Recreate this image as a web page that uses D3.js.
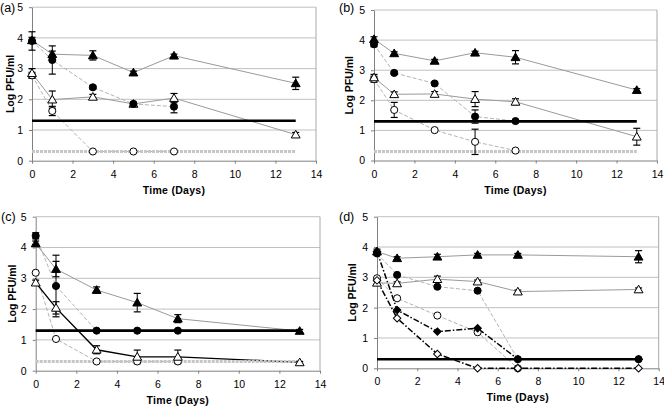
<!DOCTYPE html>
<html><head><meta charset="utf-8">
<script src="https://cdn.jsdelivr.net/npm/d3@7/dist/d3.min.js"></script>
<style>
html,body{margin:0;padding:0;background:#fff;}
svg{display:block;font-family:"Liberation Sans",Arial,sans-serif;}
</style></head>
<body><svg id="chart" width="664" height="407"></svg>
<script>
// ---- data ----
const days = [0, 1, 3, 5, 7, 13];
const xTicks = [0, 2, 4, 6, 8, 10, 12, 14];
const yTicks = [0, 1, 2, 3, 4, 5];
const panelLabels = ["(a)", "(b)", "(c)", "(d)"];
const yTitle = "Log PFU/ml";
const xTitle = "Time (Days)";

// panel (a)
const aFilledTri     = [3.92, 3.47, 3.43, 2.87, 3.42, 2.52];
const aFilledTriErr  = [0.10, 0.10, 0.15, 0.05, 0.05, 0.20];
const aFilledCirc    = [3.90, 3.28, 2.39, 1.85, 1.76, null];
const aFilledCircErr = [0.30, 0.46, 0.05, 0.05, 0.20, null];
const aOpenTri       = [2.85, 1.99, 2.08, 1.85, 2.04, 0.85];
const aOpenTriErr    = [0.15, 0.28, 0.08, 0.05, 0.15, 0.07];
const aOpenCirc      = [2.78, 1.62, 0.30, 0.30, 0.30, null];
const aOpenCircErr   = [0.10, 0.15, 0, 0, 0, null];

// panel (b)
const bFilledTri     = [4.03, 3.56, 3.31, 3.58, 3.43, 2.34];
const bFilledTriErr  = [0.08, 0.05, 0.05, 0.05, 0.22, 0.05];
const bFilledCirc    = [3.86, 2.91, 2.56, 1.46, 1.31, null];
const bFilledCircErr = [0.08, 0.05, 0.05, 0.22, 0.05, null];
const bOpenTri       = [2.76, 2.20, 2.21, 2.04, 1.95, 0.79];
const bOpenTriErr    = [0.10, 0.08, 0.08, 0.25, 0.10, 0.28];
const bOpenCirc      = [2.70, 1.68, 1.01, 0.62, 0.33, null];
const bOpenCircErr   = [0.10, 0.25, 0, 0.42, 0, null];

// panel (c)
const cFilledTri     = [4.13, 3.30, 2.62, 2.21, 1.69, 1.29];
const cFilledTriErr  = [0.08, 0.25, 0.10, 0.30, 0.13, 0.05];
const cFilledCirc    = [4.38, 2.75, 1.30, 1.30, 1.30, null];
const cFilledCircErr = [0.10, 1.00, 0, 0, 0, null];
const cOpenTri       = [2.86, 2.04, 0.68, 0.45, 0.45, 0.27];
const cOpenTriErr    = [0.08, 0.20, 0.13, 0.22, 0.22, 0.03];
const cOpenCirc      = [3.18, 1.03, 0.30, 0.30, 0.30, null];
const cOpenCircErr   = [0, 0, 0, 0, 0, null];

// panel (d)
const dFilledTri     = [3.85, 3.63, 3.68, 3.74, 3.74, 3.68];
const dFilledTriErr  = [0.08, 0.05, 0.08, 0.05, 0.05, 0.20];
const dOpenTri       = [2.82, 2.80, 2.94, 2.86, 2.53, 2.60];
const dOpenTriErr    = [0.05, 0.05, 0.10, 0.05, 0.05, 0.05];
const dFilledCirc    = [3.79, 3.08, 2.69, 2.56, 0.30, 0.30];
const dOpenCirc      = [2.97, 2.31, 1.74, 1.19, 0.00, null];
const dFilledDiam    = [3.85, 1.92, 1.21, 1.32, 0.30, 0.30];
const dOpenDiam      = [2.90, 1.65, 0.47, 0.00, 0.00, 0.00];

// reference lines
const refBlackABC = 1.3;
const refGrayABC = 0.3;
const refBlackD = 0.3;
const refEnd = 13;

// ---- drawing ----
const svg = d3.select("#chart");

const styles = {
  triLine:  {stroke: "#9a9a9a", width: 1, dash: null},
  circLine: {stroke: "#b4b4b4", width: 1, dash: "4,2"},
  blackLine:{stroke: "#000", width: 1.4, dash: null},
  diamLine: {stroke: "#000", width: 1.5, dash: "6,2,1.5,2"}
};

const panels = [
  {label: panelLabels[0], lx: 0, ly: 12, ytx: 10, x0: 32, x1: 316, yT: 7.2, yB: 160.7,
   refs: [{v: refGrayABC, c: "#c6c6c6", w: 3, dash: "3,1"}, {v: refBlackABC, c: "#000", w: 2.6}],
   series: [
    {v: aOpenCirc, e: aOpenCircErr, shape: "circle", fill: "#fff", line: styles.circLine},
    {v: aOpenTri, e: aOpenTriErr, shape: "triangle", fill: "#fff", line: styles.triLine},
    {v: aFilledCirc, e: aFilledCircErr, shape: "circle", fill: "#000", line: styles.circLine},
    {v: aFilledTri, e: aFilledTriErr, shape: "triangle", fill: "#000", line: styles.triLine}
   ]},
  {label: panelLabels[1], lx: 339, ly: 12, ytx: 349, x0: 374, x1: 657, yT: 10, yB: 160.5,
   refs: [{v: refGrayABC, c: "#c6c6c6", w: 3, dash: "3,1"}, {v: refBlackABC, c: "#000", w: 2.6}],
   series: [
    {v: bOpenCirc, e: bOpenCircErr, shape: "circle", fill: "#fff", line: styles.circLine},
    {v: bOpenTri, e: bOpenTriErr, shape: "triangle", fill: "#fff", line: styles.triLine},
    {v: bFilledCirc, e: bFilledCircErr, shape: "circle", fill: "#000", line: styles.circLine},
    {v: bFilledTri, e: bFilledTriErr, shape: "triangle", fill: "#000", line: styles.triLine}
   ]},
  {label: panelLabels[2], lx: 1, ly: 221, ytx: 12, x0: 35.7, x1: 320, yT: 216.7, yB: 370.7,
   refs: [{v: refGrayABC, c: "#c6c6c6", w: 3, dash: "3,1"}, {v: refBlackABC, c: "#000", w: 2.6}],
   series: [
    {v: cOpenCirc, e: cOpenCircErr, shape: "circle", fill: "#fff", line: styles.circLine},
    {v: cFilledCirc, e: cFilledCircErr, shape: "circle", fill: "#000", line: styles.circLine},
    {v: cFilledTri, e: cFilledTriErr, shape: "triangle", fill: "#000", line: styles.triLine},
    {v: cOpenTri, e: cOpenTriErr, shape: "triangle", fill: "#fff", line: styles.blackLine}
   ]},
  {label: panelLabels[3], lx: 339, ly: 221, ytx: 352, x0: 377, x1: 658.7, yT: 216.7, yB: 368.3,
   refs: [{v: refBlackD, c: "#000", w: 2.6}],
   series: [
    {v: dOpenCirc, e: null, shape: "circle", fill: "#fff", line: styles.circLine},
    {v: dFilledCirc, e: null, shape: "circle", fill: "#000", line: styles.circLine},
    {v: dOpenTri, e: dOpenTriErr, shape: "triangle", fill: "#fff", line: styles.triLine},
    {v: dFilledTri, e: dFilledTriErr, shape: "triangle", fill: "#000", line: styles.triLine},
    {v: dOpenDiam, e: null, shape: "diamond", fill: "#fff", line: styles.diamLine},
    {v: dFilledDiam, e: null, shape: "diamond", fill: "#000", line: styles.diamLine}
   ]}
];

const symTri = d3.symbol().type(d3.symbolTriangle).size(34)();
const symCirc = d3.symbol().type(d3.symbolCircle).size(40)();
const symDiam = d3.symbol().type(d3.symbolSquare).size(28)();

panels.forEach(p => {
  const x = d3.scaleLinear().domain([0, 14]).range([p.x0, p.x1]);
  const y = d3.scaleLinear().domain([0, 5]).range([p.yB, p.yT]);
  const g = svg.append("g");

  // gridlines
  g.selectAll(".grid").data(yTicks.filter(t => t > 0)).join("line")
    .attr("x1", p.x0).attr("x2", p.x1)
    .attr("y1", d => y(d)).attr("y2", d => y(d))
    .attr("stroke", "#c0c0c0").attr("stroke-width", 1);
  // right border
  g.append("line").attr("x1", p.x1).attr("x2", p.x1).attr("y1", p.yT).attr("y2", p.yB)
    .attr("stroke", "#a8a8a8");

  // axes
  const xAxis = d3.axisBottom(x).tickValues(xTicks).tickFormat(d3.format("d")).tickSize(3).tickSizeOuter(0);
  const gx = g.append("g").attr("transform", `translate(0,${p.yB})`).call(xAxis);
  const yAxis = d3.axisLeft(y).tickValues(yTicks).tickFormat(d3.format("d")).tickSize(3).tickSizeOuter(0);
  const gy = g.append("g").attr("transform", `translate(${p.x0},0)`).call(yAxis);
  [gx, gy].forEach(a => {
    a.select(".domain").attr("stroke", "#808080");
    a.selectAll(".tick line").attr("stroke", "#808080");
    a.selectAll(".tick text").attr("font-size", 10.5).attr("fill", "#000")
      .attr("font-family", '"Liberation Sans",Arial,sans-serif');
  });
  gx.selectAll(".tick text").attr("dy", "1.05em");
  gy.selectAll(".tick text").attr("dx", "-3");

  // series lines
  p.series.forEach(s => {
    const pts = days.map((d, i) => ({d, v: s.v[i]})).filter(o => o.v !== null);
    const line = d3.line().x(o => x(o.d)).y(o => y(o.v));
    g.append("path").attr("d", line(pts)).attr("fill", "none")
      .attr("stroke", s.line.stroke).attr("stroke-width", s.line.width)
      .attr("stroke-dasharray", s.line.dash);
  });

  // reference lines
  p.refs.forEach(r => {
    g.append("line").attr("x1", x(0)).attr("x2", x(refEnd))
      .attr("y1", y(r.v)).attr("y2", y(r.v))
      .attr("stroke", r.c).attr("stroke-width", r.w)
      .attr("stroke-dasharray", r.dash || null);
  });

  // error bars
  p.series.forEach(s => {
    if (!s.e) return;
    days.forEach((d, i) => {
      const v = s.v[i], e = s.e[i];
      if (v === null || !e) return;
      const cx = x(d);
      g.append("line").attr("x1", cx).attr("x2", cx).attr("y1", y(v - e)).attr("y2", y(v + e))
        .attr("stroke", "#000").attr("stroke-width", 1);
      [v - e, v + e].forEach(t => g.append("line")
        .attr("x1", cx - 3.5).attr("x2", cx + 3.5).attr("y1", y(t)).attr("y2", y(t))
        .attr("stroke", "#000").attr("stroke-width", 1.2));
    });
  });

  // markers
  p.series.forEach(s => {
    const pts = days.map((d, i) => ({d, v: s.v[i]})).filter(o => o.v !== null);
    const path = s.shape === "triangle" ? symTri : s.shape === "circle" ? symCirc : symDiam;
    g.selectAll(null).data(pts).join("path")
      .attr("d", path)
      .attr("transform", o => `translate(${x(o.d)},${y(o.v) + (s.shape === "triangle" ? 0.8 : 0)})${s.shape === "diamond" ? " rotate(45)" : ""}`)
      .attr("fill", s.fill).attr("stroke", "#000").attr("stroke-width", 1);
  });

  // texts
  g.append("text").attr("x", p.lx).attr("y", p.ly).attr("font-size", 12.5).text(p.label);
  g.append("text").attr("transform", `translate(${p.ytx},${(p.yT + p.yB) / 2}) rotate(-90)`)
    .attr("text-anchor", "middle").attr("dy", "0.35em")
    .attr("font-size", 10.5).attr("font-weight", "bold").text(yTitle);
  g.append("text").attr("x", (p.x0 + p.x1) / 2).attr("y", p.yB + 33)
    .attr("text-anchor", "middle").attr("font-size", 10.5).attr("font-weight", "bold")
    .attr("letter-spacing", "0.3").text(xTitle);
});
</script></body></html>
